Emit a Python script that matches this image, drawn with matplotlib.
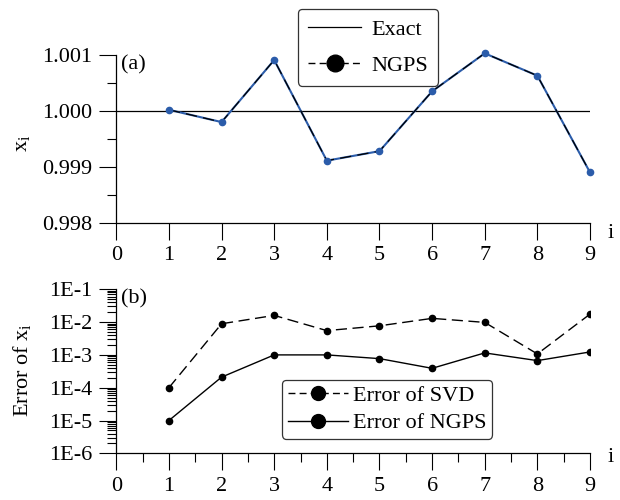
import numpy as np
import matplotlib
matplotlib.use("Agg")
import matplotlib.pyplot as plt
from matplotlib.lines import Line2D
from matplotlib.ticker import MultipleLocator, FixedLocator, FixedFormatter, LogLocator, NullFormatter

# ── data ──
idx = [1, 2, 3, 4, 5, 6, 7, 8, 9]
x_ngps = [1.00002, 0.99980, 1.00091, 0.99911, 0.99928, 1.00035, 1.00103, 1.00063, 0.99890]
x_exact = 1.0

err_svd = [1.0e-4, 8.9e-3, 1.6e-2, 5.5e-3, 7.7e-3, 1.3e-2, 9.8e-3, 1.07e-3, 1.75e-2]
err_ngps = [1.0e-5, 2.1e-4, 1.0e-3, 1.0e-3, 7.7e-4, 3.9e-4, 1.15e-3, 6.7e-4, 1.23e-3]

top_yticks = [0.998, 0.999, 1.000, 1.001]
top_ylabels = ["0.998", "0.999", "1.000", "1.001"]
bot_yticks = [1e-6, 1e-5, 1e-4, 1e-3, 1e-2, 1e-1]
bot_ylabels = ["1E-6", "1E-5", "1E-4", "1E-3", "1E-2", "1E-1"]

plt.rcParams["font.family"] = ["Liberation Serif", "DejaVu Serif"]
plt.rcParams["mathtext.default"] = "regular"
plt.rcParams["font.size"] = 16

blue = "#2b5caa"
W, H = 620, 500
fig = plt.figure(figsize=(6.2, 5), dpi=100)

def fx(px):
    return px / W

def fy(py):
    return 1 - py / H

x0, x9 = 116.3, 590.0
ax1 = fig.add_axes([fx(x0), fy(222.7), fx(x9 - x0), (222.7 - 55) / H])
ax2 = fig.add_axes([fx(x0), fy(453.3), fx(x9 - x0), (453.3 - 289.3) / H])

for ax in (ax1, ax2):
    ax.spines["top"].set_visible(False)
    ax.spines["right"].set_visible(False)
    ax.spines["left"].set_linewidth(0.9)
    ax.spines["bottom"].set_linewidth(0.9)
    ax.set_xlim(0, 9)
    ax.xaxis.set_major_locator(MultipleLocator(1))
    ax.tick_params(which="major", direction="out", length=12, width=0.8, pad=5, labelsize=16)
    ax.tick_params(which="minor", direction="out", length=6.2, width=0.8)
    ax.patch.set_alpha(0)

# ── (a) solution values ──
dash = (0, (8, 4))
ax1.axhline(x_exact, color="black", lw=0.9, zorder=2)
ax1.plot(idx, x_ngps, color=blue, lw=1.5, zorder=3, clip_on=False)
ax1.plot(idx, x_ngps, color="black", lw=0.9, linestyle=(0, (9, 5)), zorder=4, clip_on=False)
ax1.plot(idx, x_ngps, linestyle="none", marker="o", ms=4.5, color=blue, zorder=5, clip_on=False)
ax1.set_ylim(0.998, 1.001)
ax1.yaxis.set_major_locator(FixedLocator(top_yticks))
ax1.yaxis.set_major_formatter(FixedFormatter(top_ylabels))
ax1.yaxis.set_minor_locator(MultipleLocator(0.0005))
ax1.text(0.01, 1.0, "(a)", transform=ax1.transAxes, va="top", ha="left", fontsize=16)

h_exact = Line2D([], [], color="black", lw=0.9)
h_ngps = Line2D([], [], color="black", lw=1.0, linestyle=(0, (5, 3)), marker="o", ms=12)
leg1 = fig.legend([h_exact, h_ngps], ["Exact", "NGPS"], loc="upper left",
                  bbox_to_anchor=(fx(298), fy(9)), bbox_transform=fig.transFigure,
                  borderaxespad=0, fontsize=16, handlelength=2.4, handletextpad=0.45,
                  labelspacing=0.7, borderpad=0.45, frameon=True, fancybox=True)
leg1.get_frame().set_edgecolor("black")
leg1.get_frame().set_linewidth(0.9)

# ── (b) errors ──
ax2.set_yscale("log")
ax2.plot(idx, err_svd, color="black", lw=1.0, linestyle=dash, marker="o", ms=4.5)
ax2.plot(idx, err_ngps, color="black", lw=1.0, marker="o", ms=4.5)
ax2.set_ylim(1e-6, 1e-1)
ax2.yaxis.set_major_locator(FixedLocator(bot_yticks))
ax2.yaxis.set_major_formatter(FixedFormatter(bot_ylabels))
ax2.yaxis.set_minor_locator(LogLocator(base=10, subs=np.arange(2, 10), numticks=100))
ax2.yaxis.set_minor_formatter(NullFormatter())
ax2.xaxis.set_minor_locator(MultipleLocator(0.5))
ax2.text(0.01, 1.0, "(b)", transform=ax2.transAxes, va="top", ha="left", fontsize=16)

h_svd = Line2D([], [], color="black", lw=1.0, linestyle=(0, (5, 3)), marker="o", ms=10)
h_ng = Line2D([], [], color="black", lw=1.0, marker="o", ms=10)
leg2 = fig.legend([h_svd, h_ng], ["Error of SVD", "Error of NGPS"], loc="upper left",
                  bbox_to_anchor=(fx(282), fy(380)), bbox_transform=fig.transFigure,
                  borderaxespad=0, fontsize=16, handlelength=2.7, handletextpad=0.25,
                  labelspacing=0.3, borderpad=0.25, frameon=True, fancybox=True)
leg2.get_frame().set_edgecolor("black")
leg2.get_frame().set_linewidth(0.9)

# axis labels
fig.text(fx(23), fy(143), "x$_i$", rotation=90, ha="center", va="center", fontsize=16)
fig.text(fx(22), fy(370), "Error of x$_i$", rotation=90, ha="center", va="center", fontsize=16)
fig.text(fx(611), fy(234), "i", ha="center", va="center", fontsize=16)
fig.text(fx(611), fy(458), "i", ha="center", va="center", fontsize=16)

fig.savefig("out.png", dpi=100)
